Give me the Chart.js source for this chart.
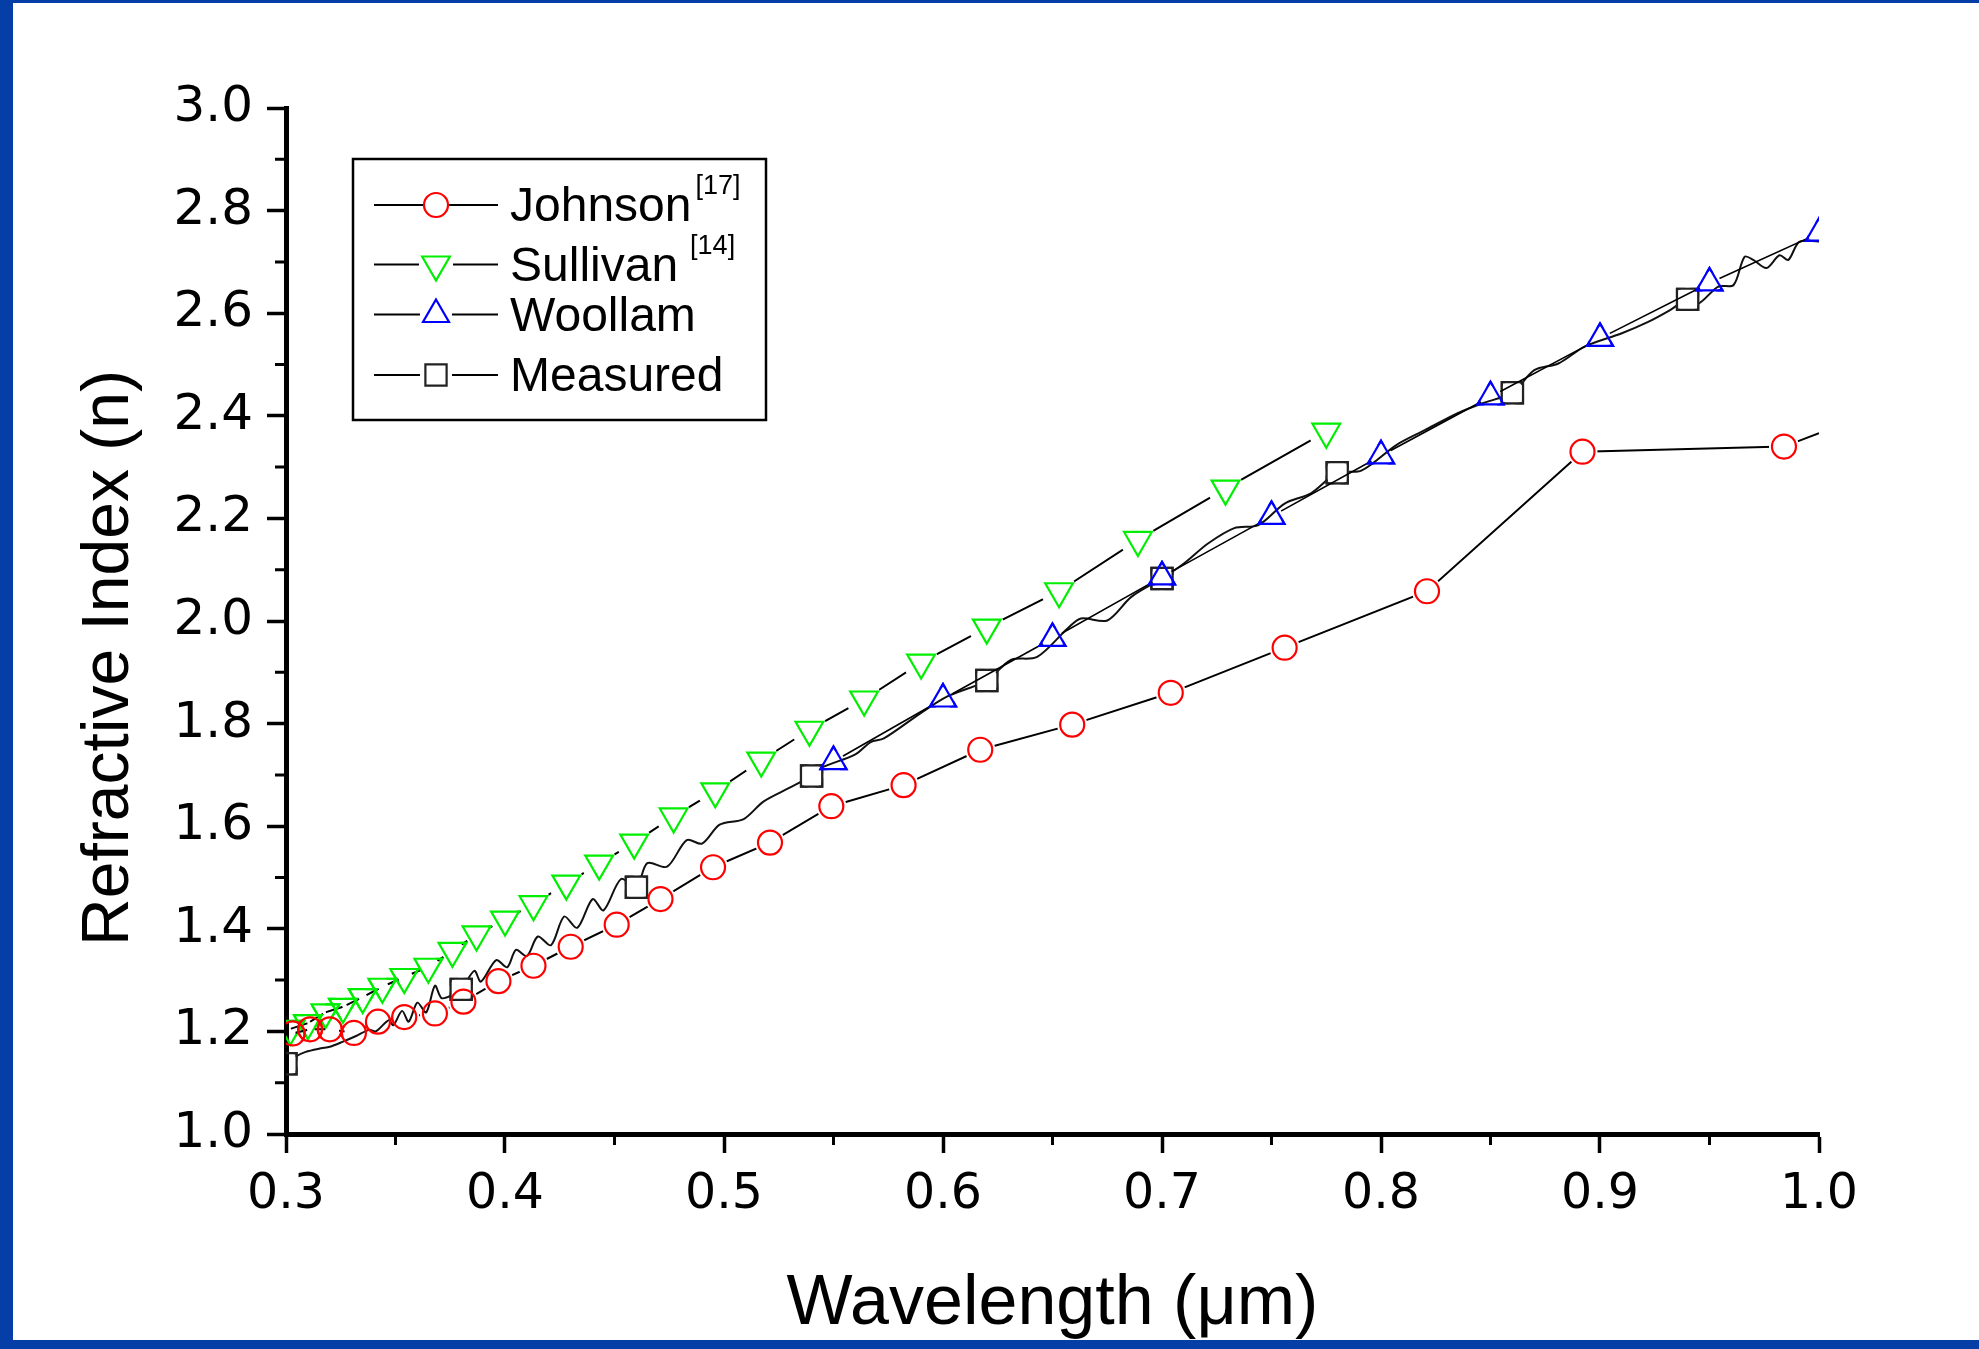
<!DOCTYPE html>
<html>
<head>
<meta charset="utf-8">
<script src="https://cdn.jsdelivr.net/npm/chart.js@4.4.1/dist/chart.umd.min.js"></script>
<style>
  html, body { margin: 0; padding: 0; background: #fff; }
  canvas { display: block; }
</style>
</head>
<body>
<canvas id="chart" width="1979" height="1349"></canvas>
<script>
// values
const xTickLabels = ['0.3', '0.4', '0.5', '0.6', '0.7', '0.8', '0.9', '1.0'];
const yTickLabels = ['1.0', '1.2', '1.4', '1.6', '1.8', '2.0', '2.2', '2.4', '2.6', '2.8', '3.0'];
const xMinorTicks = [0.35, 0.45, 0.55, 0.65, 0.75, 0.85, 0.95];
const yMinorTicks = [1.1, 1.3, 1.5, 1.7, 1.9, 2.1, 2.3, 2.5, 2.7, 2.9];

const seriesNames = ['Johnson', 'Sullivan', 'Woollam', 'Measured'];
const seriesRefs = ['[17]', '[14]', '', ''];

const johnsonX = [0.303, 0.311, 0.320, 0.331, 0.342, 0.354, 0.368, 0.381, 0.397, 0.413, 0.430, 0.451, 0.471,
  0.495, 0.521, 0.549, 0.582, 0.617, 0.659, 0.704, 0.756, 0.821, 0.892, 0.984, 1.000];
const johnsonN = [1.196, 1.204, 1.204, 1.197, 1.219, 1.228, 1.235, 1.258, 1.298, 1.328, 1.365, 1.408, 1.458,
  1.520, 1.568, 1.639, 1.680, 1.749, 1.798, 1.860, 1.948, 2.058, 2.330, 2.340, 2.366];

const sullivanX = [0.302, 0.310, 0.318, 0.326, 0.335, 0.344, 0.354, 0.365, 0.376, 0.387, 0.400, 0.413, 0.428,
  0.443, 0.459, 0.477, 0.496, 0.517, 0.539, 0.564, 0.590, 0.620, 0.653, 0.689, 0.729, 0.775];
const sullivanN = [1.205, 1.216, 1.237, 1.248, 1.267, 1.287, 1.306, 1.326, 1.357, 1.389, 1.418, 1.448, 1.488,
  1.527, 1.568, 1.619, 1.668, 1.728, 1.788, 1.847, 1.919, 1.987, 2.058, 2.158, 2.258, 2.369];

const woollamX = [0.55, 0.60, 0.65, 0.70, 0.75, 0.80, 0.85, 0.90, 0.95, 1.00];
const woollamN = [1.726, 1.848, 1.966, 2.086, 2.204, 2.322, 2.437, 2.551, 2.659, 2.756];

const measuredX = [0.300, 0.304, 0.309, 0.316, 0.320, 0.326, 0.332, 0.338, 0.341, 0.347, 0.349, 0.353, 0.356,
  0.360, 0.364, 0.368, 0.371, 0.375, 0.380, 0.386, 0.389, 0.396, 0.401, 0.405, 0.410, 0.415, 0.421, 0.427,
  0.433, 0.440, 0.445, 0.453, 0.460, 0.465, 0.474, 0.483, 0.490, 0.498, 0.509, 0.518, 0.530, 0.540, 0.544,
  0.560, 0.567, 0.573, 0.590, 0.602, 0.620, 0.631, 0.643, 0.657, 0.663, 0.675, 0.686, 0.700, 0.710, 0.721,
  0.733, 0.744, 0.756, 0.768, 0.780, 0.791, 0.807, 0.820, 0.835, 0.846, 0.860, 0.870, 0.881, 0.893, 0.910,
  0.922, 0.932, 0.940, 0.945, 0.954, 0.961, 0.966, 0.970, 0.976, 0.982, 0.986, 0.991, 1.000];
const measuredN = [1.137, 1.150, 1.160, 1.167, 1.170, 1.180, 1.191, 1.203, 1.200, 1.222, 1.212, 1.240, 1.219,
  1.256, 1.237, 1.289, 1.265, 1.269, 1.282, 1.318, 1.297, 1.339, 1.325, 1.359, 1.347, 1.385, 1.368, 1.424,
  1.402, 1.458, 1.436, 1.497, 1.481, 1.528, 1.521, 1.573, 1.566, 1.603, 1.614, 1.648, 1.675, 1.698, 1.713,
  1.740, 1.764, 1.771, 1.821, 1.853, 1.884, 1.924, 1.930, 1.986, 2.005, 2.001, 2.047, 2.083, 2.112, 2.151,
  2.181, 2.187, 2.229, 2.249, 2.289, 2.293, 2.343, 2.372, 2.405, 2.424, 2.445, 2.489, 2.502, 2.535, 2.561,
  2.583, 2.606, 2.627, 2.619, 2.652, 2.655, 2.710, 2.704, 2.688, 2.713, 2.704, 2.739, 2.740];
const measuredMarkerX = [0.300, 0.380, 0.460, 0.540, 0.620, 0.700, 0.780, 0.860, 0.940];

const FONT = "'Liberation Sans', Arial, Helvetica, sans-serif";
const TICK_FONT = "'DejaVu Sans', 'Liberation Sans', sans-serif";
const toPoints = (xs, ys) => xs.map((x, i) => ({ x: x, y: ys[i] }));
const isMarked = (list, x) => list.some(m => Math.abs(m - x) < 1e-6);

// blue frame around the slide
const frame = {
  id: 'frame',
  beforeDraw(chart) {
    const ctx = chart.ctx;
    ctx.save();
    ctx.fillStyle = '#fff';
    ctx.fillRect(0, 0, chart.width, chart.height);
    ctx.fillStyle = '#063ea8';
    ctx.fillRect(0, 0, 13, chart.height);
    ctx.fillRect(0, 0, chart.width, 3);
    ctx.fillRect(0, chart.height - 9, chart.width, 9);
    ctx.restore();
  }
};

// Origin style: line stops short of the symbol, symbols stay hollow
const markerGaps = {
  id: 'markerGaps',
  beforeDatasetDraw(chart, args) {
    const ds = chart.data.datasets[args.index];
    if (!ds.markerGap) return;
    const ctx = chart.ctx;
    ctx.save();
    ctx.beginPath();
    ctx.rect(0, 0, chart.width, chart.height);
    args.meta.data.forEach(pt => {
      if (pt.options.radius > 0) {
        ctx.moveTo(pt.x + ds.markerGap, pt.y);
        ctx.arc(pt.x, pt.y, ds.markerGap, 0, Math.PI * 2);
      }
    });
    ctx.clip('evenodd');
  },
  afterDatasetDraw(chart, args) {
    const ds = chart.data.datasets[args.index];
    if (!ds.markerGap) return;
    const ctx = chart.ctx;
    ctx.restore();
    const a = chart.chartArea;
    ctx.save();
    ctx.beginPath();
    ctx.rect(a.left, a.top, a.right - a.left, a.bottom - a.top);
    ctx.clip();
    args.meta.data.forEach(pt => pt.draw(ctx, a));
    ctx.restore();
  }
};

const minorTicks = {
  id: 'minorTicks',
  afterDraw(chart) {
    const ctx = chart.ctx;
    const xs = chart.scales.x, ys = chart.scales.y;
    const a = chart.chartArea;
    ctx.save();
    ctx.strokeStyle = '#000';
    ctx.lineWidth = 3;
    ctx.beginPath();
    xMinorTicks.forEach(v => {
      const px = xs.getPixelForValue(v);
      ctx.moveTo(px, a.bottom);
      ctx.lineTo(px, a.bottom + 11);
    });
    yMinorTicks.forEach(v => {
      const py = ys.getPixelForValue(v);
      ctx.moveTo(a.left, py);
      ctx.lineTo(a.left - 11, py);
    });
    ctx.stroke();
    ctx.restore();
  }
};

const axisTitles = {
  id: 'axisTitles',
  afterDraw(chart) {
    const ctx = chart.ctx;
    const a = chart.chartArea;
    ctx.save();
    ctx.fillStyle = '#000';
    ctx.textAlign = 'center';
    ctx.textBaseline = 'alphabetic';
    ctx.font = '70px ' + FONT;
    ctx.fillText('Wavelength (\u03bcm)', (a.left + a.right) / 2, 1324);
    ctx.translate(128, 658);
    ctx.rotate(-Math.PI / 2);
    ctx.font = '66px ' + FONT;
    ctx.fillText('Refractive Index (n)', 0, 0);
    ctx.restore();
  }
};

const legendMarkerRadius = [12, 16, 15, 15];
const legendRowsY = [205, 264.5, 314.5, 375];
const legendBox = {
  id: 'legendBox',
  afterDraw(chart) {
    const ctx = chart.ctx;
    ctx.save();
    ctx.strokeStyle = '#000';
    ctx.lineWidth = 2.5;
    ctx.strokeRect(353, 159, 413, 261);
    chart.data.datasets.forEach((ds, i) => {
      const y = legendRowsY[i];
      const mx = 436, r = legendMarkerRadius[i];
      const gap = r + 1;
      ctx.strokeStyle = '#000';
      ctx.lineWidth = 2;
      ctx.beginPath();
      ctx.moveTo(374, y); ctx.lineTo(mx - gap, y);
      ctx.moveTo(mx + gap, y); ctx.lineTo(498, y);
      ctx.stroke();
      ctx.strokeStyle = ds.pointBorderColor;
      ctx.fillStyle = 'rgba(0,0,0,0)';
      ctx.lineWidth = ds.pointBorderWidth;
      Chart.helpers.drawPoint(ctx, {
        pointStyle: ds.pointStyle, rotation: ds.pointRotation || 0,
        radius: r, borderWidth: ds.pointBorderWidth
      }, mx, y);
      ctx.fillStyle = '#000';
      ctx.textAlign = 'left';
      ctx.textBaseline = 'alphabetic';
      ctx.font = '48px ' + FONT;
      ctx.fillText(seriesNames[i], 510, y + 16);
      if (seriesRefs[i]) {
        const w = ctx.measureText(seriesNames[i]).width;
        ctx.font = '27px ' + FONT;
        ctx.fillText(seriesRefs[i], 510 + w + (i === 1 ? 12 : 4), i === 0 ? 194 : 254);
      }
    });
    ctx.restore();
  }
};

new Chart(document.getElementById('chart'), {
  type: 'line',
  data: {
    datasets: [
      {
        label: seriesNames[0],
        data: toPoints(johnsonX, johnsonN),
        borderColor: '#000', borderWidth: 2,
        pointStyle: 'circle',
        pointRadius: c => (c.raw && c.raw.x < 0.999 ? 12 : 0),
        pointBorderColor: '#ff0000', pointBackgroundColor: 'rgba(0,0,0,0)', pointBorderWidth: 2.2,
        markerGap: 15
      },
      {
        label: seriesNames[1],
        data: toPoints(sullivanX, sullivanN),
        borderColor: '#000', borderWidth: 2,
        pointStyle: 'triangle', pointRotation: 180, pointRadius: 16,
        pointBorderColor: '#00ee00', pointBackgroundColor: 'rgba(0,0,0,0)', pointBorderWidth: 2.2,
        markerGap: 18
      },
      {
        label: seriesNames[2],
        data: toPoints(woollamX, woollamN),
        borderColor: '#000', borderWidth: 1.6,
        pointStyle: 'triangle', pointRadius: 15,
        pointBorderColor: '#0000ff', pointBackgroundColor: 'rgba(0,0,0,0)', pointBorderWidth: 2.2,
        markerGap: 11
      },
      {
        label: seriesNames[3],
        data: toPoints(measuredX, measuredN),
        borderColor: '#111', borderWidth: 2, tension: 0.3,
        pointStyle: 'rect',
        pointRadius: c => (c.raw && isMarked(measuredMarkerX, c.raw.x) ? 15 : 0),
        pointBorderColor: '#222', pointBackgroundColor: 'rgba(0,0,0,0)', pointBorderWidth: 2.2,
        markerGap: 12
      }
    ]
  },
  options: {
    responsive: false,
    animation: false,
    devicePixelRatio: 1,
    layout: { padding: { top: 108, right: 160, left: 0, bottom: 0 } },
    plugins: { legend: { display: false }, tooltip: { enabled: false } },
    scales: {
      x: {
        type: 'linear', min: 0.3, max: 1.0,
        border: { display: true, color: '#000', width: 5 },
        grid: { drawOnChartArea: false, drawTicks: true, tickLength: 19, tickWidth: 3.5, tickColor: '#000' },
        ticks: {
          stepSize: 0.1, autoSkip: false, maxRotation: 0, padding: 13, color: '#000',
          font: { family: TICK_FONT, size: 49 },
          callback: v => xTickLabels.find(t => Math.abs(parseFloat(t) - v) < 1e-6) || ''
        },
        afterFit: s => { s.height = 215; }
      },
      y: {
        type: 'linear', min: 1.0, max: 3.0,
        border: { display: true, color: '#000', width: 5 },
        grid: { drawOnChartArea: false, drawTicks: true, tickLength: 19, tickWidth: 3.5, tickColor: '#000' },
        ticks: {
          stepSize: 0.2, autoSkip: false, padding: 14, color: '#000',
          font: { family: TICK_FONT, size: 50 },
          callback: v => yTickLabels.find(t => Math.abs(parseFloat(t) - v) < 1e-6) || ''
        },
        afterFit: s => { s.width = 286; }
      }
    }
  },
  plugins: [frame, markerGaps, minorTicks, axisTitles, legendBox]
});
</script>
</body>
</html>
